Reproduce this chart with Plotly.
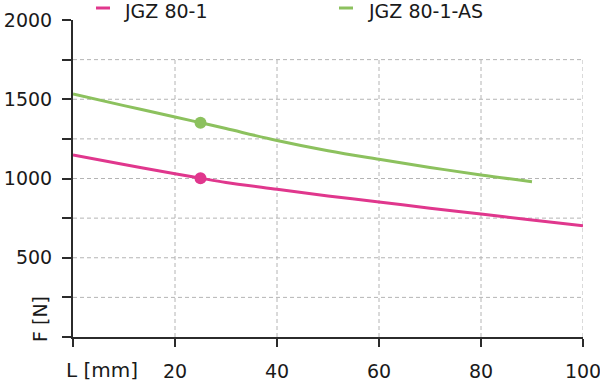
import plotly.graph_objects as go

# ---- data ----
SERIES_NAMES = ["JGZ 80-1", "JGZ 80-1-AS"]
L_PINK = [0, 10, 20, 25, 30, 40, 50, 60, 70, 80, 90, 100]
F_PINK = [1148, 1088, 1030, 1002, 975, 932, 890, 852, 813, 776, 738, 702]
L_GREEN = [0, 10, 20, 25, 30, 40, 50, 60, 70, 80, 90]
F_GREEN = [1533, 1460, 1388, 1352, 1315, 1240, 1175, 1121, 1070, 1022, 980]
MARK_L = 25
MARK_PINK = 1002
MARK_GREEN = 1352

X_TICKS = [0, 20, 40, 60, 80, 100]
X_TICKTEXT = ["", "20", "40", "60", "80", "100"]
Y_TICKS = [0, 250, 500, 750, 1000, 1250, 1500, 1750, 2000]
Y_TICKTEXT = ["", "", "500", "", "1000", "", "1500", "", "2000"]
X_GRID = [20, 40, 60, 80, 100]
Y_GRID = [250, 500, 750, 1000, 1250, 1500, 1750]
GRID_TOP = 1750

PINK = "#E0378D"
GREEN = "#8CC15E"
FONT = "DejaVu Sans"
FS = 19
AXIS_COLOR = "#2b2b2b"
TEXT_COLOR = "#1a1a1a"

fig = go.Figure()

fig.add_trace(go.Scatter(x=L_PINK, y=F_PINK, mode="lines", name=SERIES_NAMES[0],
                         line=dict(color=PINK, width=3, shape="spline", smoothing=1.0),
                         showlegend=False))
fig.add_trace(go.Scatter(x=L_GREEN, y=F_GREEN, mode="lines", name=SERIES_NAMES[1],
                         line=dict(color=GREEN, width=3, shape="spline", smoothing=1.0),
                         showlegend=False))
fig.add_trace(go.Scatter(x=[MARK_L], y=[MARK_PINK], mode="markers", showlegend=False,
                         marker=dict(color=PINK, size=12)))
fig.add_trace(go.Scatter(x=[MARK_L], y=[MARK_GREEN], mode="markers", showlegend=False,
                         marker=dict(color=GREEN, size=12)))

shapes = []
for gx in X_GRID:
    shapes.append(dict(type="line", xref="x", yref="y", x0=gx, x1=gx, y0=0, y1=GRID_TOP,
                       line=dict(color="#b4b4b4", width=1, dash="4px,3px"), layer="below"))
for gy in Y_GRID:
    shapes.append(dict(type="line", xref="x", yref="y", x0=0, x1=100, y0=gy, y1=gy,
                       line=dict(color="#b4b4b4", width=1, dash="4px,3px"), layer="below"))

W = 510.0
H = 317.0
def px_x(p):
    return (p - 73) / W
def px_y(p):
    return (337 - p) / H

legend_items = [(SERIES_NAMES[0], PINK, 96, 122), (SERIES_NAMES[1], GREEN, 339, 366)]
annotations = []
for name, col, sx, tx in legend_items:
    shapes.append(dict(type="line", xref="paper", yref="paper", x0=px_x(sx), x1=px_x(sx + 14),
                       y0=px_y(8), y1=px_y(8), line=dict(color=col, width=3)))
    annotations.append(dict(text=name, xref="paper", yref="paper", x=px_x(tx), y=px_y(11),
                            xanchor="left", yanchor="middle", showarrow=False,
                            font=dict(family=FONT, size=FS, color=TEXT_COLOR)))

annotations.append(dict(text="L [mm]", xref="paper", yref="paper", x=px_x(64), y=px_y(370),
                        xanchor="left", yanchor="middle", showarrow=False,
                        font=dict(family=FONT, size=FS + 1, color=TEXT_COLOR)))
annotations.append(dict(text="F [N]", xref="paper", yref="paper", x=px_x(40), y=px_y(319),
                        xanchor="center", yanchor="middle", showarrow=False, textangle=-90,
                        font=dict(family=FONT, size=FS, color=TEXT_COLOR)))

fig.update_layout(
    width=600, height=383,
    margin=dict(l=73, r=17, t=20, b=46, autoexpand=False),
    plot_bgcolor="white", paper_bgcolor="white",
    shapes=shapes, annotations=annotations,
    font=dict(family=FONT, size=FS, color=TEXT_COLOR),
    xaxis=dict(range=[0, 100], tickvals=X_TICKS, ticktext=X_TICKTEXT, showgrid=False,
               zeroline=False, showline=True, linecolor=AXIS_COLOR, linewidth=2,
               ticks="outside", ticklen=8, tickwidth=2, tickcolor=AXIS_COLOR,
               ticklabelstandoff=8, automargin=False, ticklabeloverflow="allow"),
    yaxis=dict(range=[0, 2000], tickvals=Y_TICKS, ticktext=Y_TICKTEXT, showgrid=False,
               zeroline=False, showline=True, linecolor=AXIS_COLOR, linewidth=2,
               ticks="outside", ticklen=9, tickwidth=2, tickcolor=AXIS_COLOR,
               ticklabelstandoff=6, automargin=False, ticklabeloverflow="allow"),
)

fig.write_html("out.html", config={"displayModeBar": False},
               post_script="document.body.style.margin='0';document.body.style.padding='0';")
